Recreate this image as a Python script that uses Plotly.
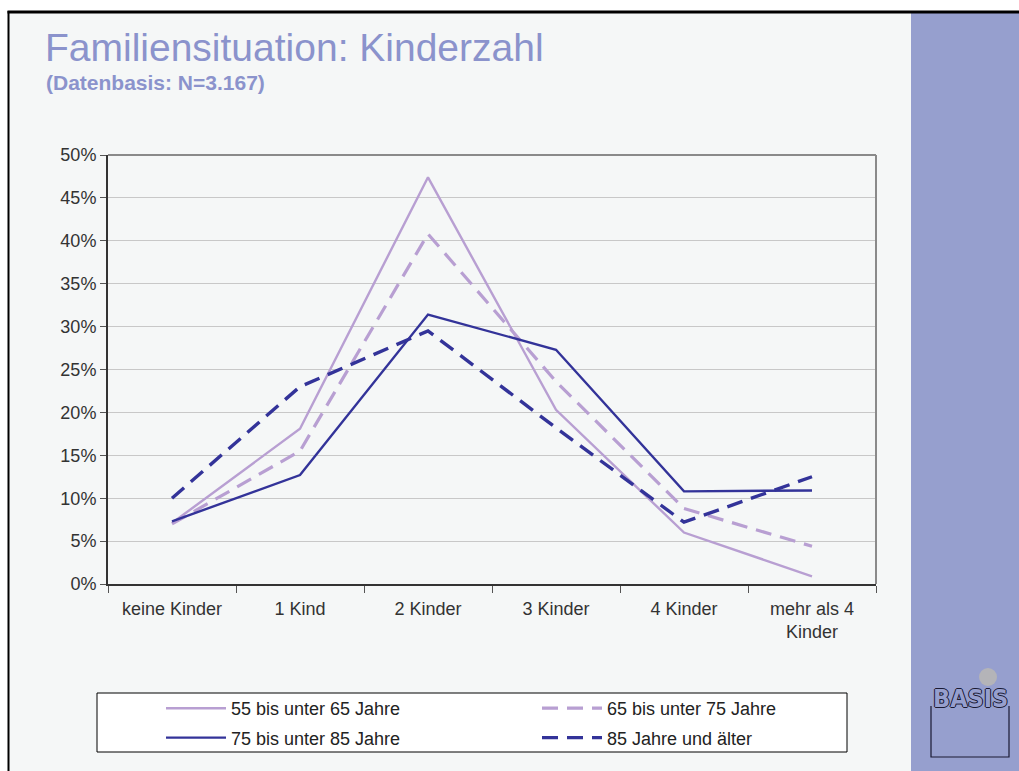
import plotly.graph_objects as go

# Kinderzahl nach Altersgruppe (Anteile in %)
kategorien = ["keine Kinder", "1 Kind", "2 Kinder", "3 Kinder", "4 Kinder", "mehr als 4<br>Kinder"]
alter_55_65 = [7.1, 18.1, 47.4, 20.3, 6.0, 0.9]
alter_65_75 = [7.0, 15.5, 40.8, 23.6, 8.8, 4.4]
alter_75_85 = [7.3, 12.7, 31.4, 27.3, 10.8, 10.9]
alter_85_plus = [10.0, 23.0, 29.5, 18.2, 7.2, 12.5]

y_ticks = [0, 5, 10, 15, 20, 25, 30, 35, 40, 45, 50]
y_labels = [f"{v}%" for v in y_ticks]

hell = "#b89fd2"
dunkel = "#333399"
titel_farbe = "#8b93cc"
schrift = "Liberation Sans, Arial, sans-serif"

W, H = 1019, 771
L, R, T, B = 108, 876, 155, 584


def px_x(x):
    return (x - L) / (R - L)


def px_y(y):
    return (B - y) / (B - T)


fig = go.Figure()
fig.add_trace(go.Scatter(x=kategorien, y=alter_55_65, mode="lines", name="55 bis unter 65 Jahre",
                         legend="legend", legendgroup="a",
                         line=dict(color=hell, width=2.4)))
fig.add_trace(go.Scatter(x=kategorien, y=alter_65_75, mode="lines", name="65 bis unter 75 Jahre",
                         legend="legend2", legendgroup="b",
                         line=dict(color=hell, width=3.2, dash="16px,9px")))
fig.add_trace(go.Scatter(x=kategorien, y=alter_75_85, mode="lines", name="75 bis unter 85 Jahre",
                         legend="legend", legendgroup="c",
                         line=dict(color=dunkel, width=2.4)))
fig.add_trace(go.Scatter(x=kategorien, y=alter_85_plus, mode="lines", name="85 Jahre und älter",
                         legend="legend2", legendgroup="d",
                         line=dict(color=dunkel, width=3.4, dash="16px,9px")))

shapes = [
    # heller Hintergrund und blauer Balken rechts
    dict(type="rect", xref="paper", yref="paper", x0=px_x(8), x1=px_x(911), y0=px_y(H + 5), y1=px_y(12),
         line=dict(width=0), fillcolor="#f5f7f7", layer="below"),
    dict(type="rect", xref="paper", yref="paper", x0=px_x(911), x1=px_x(W + 5), y0=px_y(H + 5), y1=px_y(12.5),
         line=dict(width=0), fillcolor="#969fce", layer="below"),
    # schwarzer Rahmen oben/links
    dict(type="line", xref="paper", yref="paper", x0=px_x(7.5), x1=px_x(W + 5), y0=px_y(12), y1=px_y(12),
         line=dict(color="black", width=3)),
    dict(type="line", xref="paper", yref="paper", x0=px_x(8.5), x1=px_x(8.5), y0=px_y(11), y1=px_y(H + 5),
         line=dict(color="black", width=2)),
    # Rahmen oben/rechts des Diagramms
    dict(type="line", xref="paper", yref="paper", x0=0, x1=1, y0=1, y1=1, line=dict(color="#8a8a8a", width=2)),
    dict(type="line", xref="paper", yref="paper", x0=1, x1=1, y0=0, y1=1, line=dict(color="#8a8a8a", width=2)),
    # Legendenkasten
    dict(type="rect", xref="paper", yref="paper", x0=px_x(97), x1=px_x(847), y0=px_y(752), y1=px_y(693),
         line=dict(color="black", width=1), fillcolor="white", layer="below"),
    # Logo
    dict(type="circle", xref="paper", yref="paper", x0=px_x(979), x1=px_x(997), y0=px_y(686), y1=px_y(668),
         line=dict(width=0), fillcolor="#b4b4b8"),
    dict(type="path", xref="paper", yref="paper",
         path="M {a},{b} L {a},{c} L {d},{c} L {d},{b}".format(
             a=px_x(931), b=px_y(706), c=px_y(757), d=px_x(1009)),
         line=dict(color="#1a1a33", width=1.2)),
]

legende = dict(orientation="v", xanchor="left", yanchor="top", bgcolor="rgba(0,0,0,0)",
               font=dict(size=18, color="#222222", family=schrift), itemwidth=60, tracegroupgap=3)

fig.update_layout(
    width=W, height=H,
    margin=dict(l=L, r=W - R, t=T, b=H - B, autoexpand=False),
    paper_bgcolor="white",
    plot_bgcolor="#f5f7f7",
    font=dict(family=schrift, size=18, color="#333333"),
    shapes=shapes,
    showlegend=True,
    legend=dict(legende, x=px_x(161), y=px_y(690)),
    legend2=dict(legende, x=px_x(537), y=px_y(690)),
    xaxis=dict(type="category", tickson="boundaries", ticks="outside", ticklen=7, tickcolor="#555555",
               showline=True, linecolor="#333333", linewidth=2, showgrid=False, ticklabelstandoff=7,
               tickfont=dict(size=18, color="#333333"), range=[-0.5, 5.5]),
    yaxis=dict(range=[0, 50], tickmode="array", tickvals=y_ticks, ticktext=y_labels,
               ticks="outside", ticklen=6, tickcolor="#555555",
               showline=True, linecolor="#333333", linewidth=2, gridcolor="#c8c8c8", gridwidth=1,
               tickfont=dict(size=18, color="#333333"), zeroline=False),
    annotations=[
        dict(text="Familiensituation: Kinderzahl", xref="paper", yref="paper", x=px_x(43), y=px_y(24),
             xanchor="left", yanchor="top", showarrow=False,
             font=dict(size=39, color=titel_farbe, family=schrift)),
        dict(text="<b>(Datenbasis: N=3.167)</b>", xref="paper", yref="paper", x=px_x(44), y=px_y(69),
             xanchor="left", yanchor="top", showarrow=False,
             font=dict(size=21, color=titel_farbe, family=schrift)),
        dict(text="<b>BASIS</b>", xref="paper", yref="paper", x=px_x(970), y=px_y(698),
             xanchor="center", yanchor="middle", showarrow=False,
             font=dict(size=25, color="#969fce", family="DejaVu Sans Condensed, sans-serif",
                       shadow="1px 0 0 #1a1a33, -1px 0 0 #1a1a33, 0 1px 0 #1a1a33, 0 -1px 0 #1a1a33")),
    ],
)

fig.write_html("out.html", config={"displayModeBar": False},
               post_script="document.body.style.margin='0px';")
